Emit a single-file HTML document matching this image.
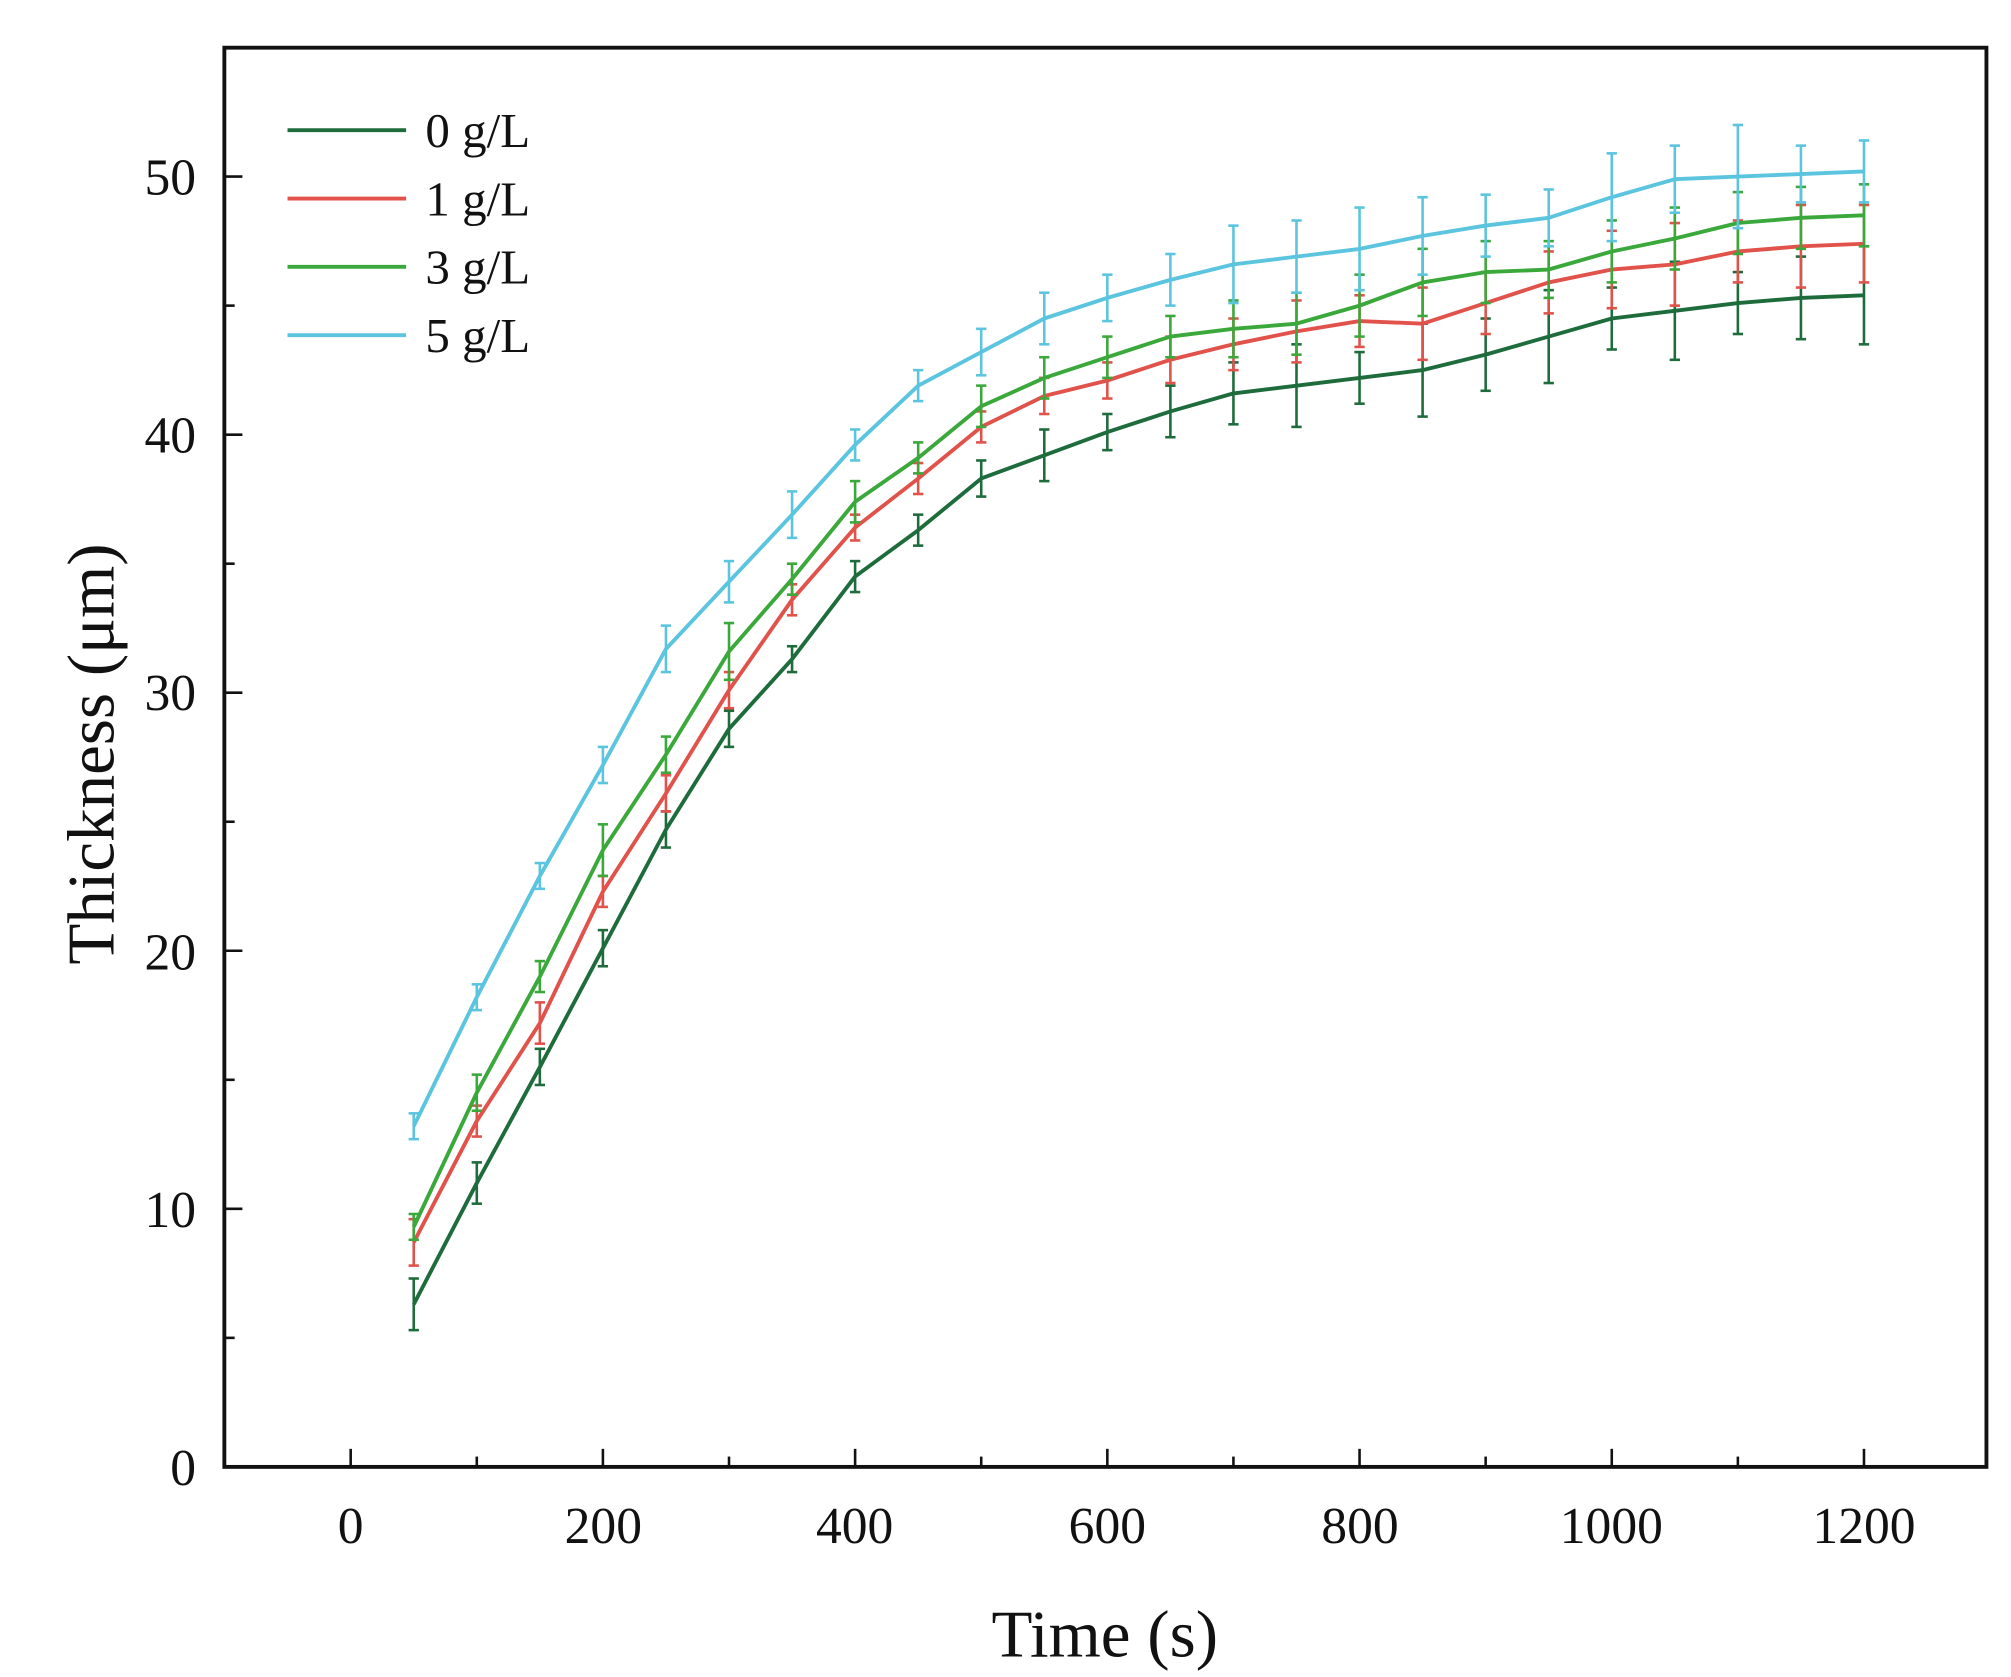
<!DOCTYPE html>
<html><head><meta charset="utf-8"><style>
html,body{margin:0;padding:0;background:#fff;}
svg{display:block;}
text{font-family:"Liberation Serif",serif;fill:#111;}
</style></head><body>
<svg id="s" width="2011" height="1677" viewBox="0 0 1560 1301" xmlns="http://www.w3.org/2000/svg">
<rect x="0" y="0" width="1560" height="1301" fill="#fff"/>
<g id="series"></g>
<rect x="174" y="37" width="1367" height="1101" fill="none" stroke="#111" stroke-width="3"/>
<g id="ticks" stroke="#111" stroke-width="2"></g>
<g font-size="40" text-anchor="end">
<text x="152" y="1152">0</text>
<text x="152" y="952">10</text>
<text x="152" y="752">20</text>
<text x="152" y="551">30</text>
<text x="152" y="351">40</text>
<text x="152" y="151">50</text>
</g>
<g font-size="40" text-anchor="middle">
<text x="272" y="1197">0</text>
<text x="468" y="1197">200</text>
<text x="663" y="1197">400</text>
<text x="859" y="1197">600</text>
<text x="1055" y="1197">800</text>
<text x="1250" y="1197">1000</text>
<text x="1446" y="1197">1200</text>
</g>
<text x="857" y="1285" font-size="52" text-anchor="middle">Time (s)</text>
<text transform="translate(88,585) rotate(-90)" font-size="52" text-anchor="middle">Thickness (μm)</text>
<g stroke-width="3">
<line x1="223" y1="101" x2="315" y2="101" stroke="#1e6b3c"/>
<line x1="223" y1="154" x2="315" y2="154" stroke="#e0524a"/>
<line x1="223" y1="207" x2="315" y2="207" stroke="#3aa83a"/>
<line x1="223" y1="260" x2="315" y2="260" stroke="#5bc4de"/>
</g>
<g font-size="38">
<text x="330" y="114">0 g/L</text>
<text x="330" y="167">1 g/L</text>
<text x="330" y="220">3 g/L</text>
<text x="330" y="273">5 g/L</text>
</g>
</svg>
<script>
var NS="http://www.w3.org/2000/svg";
function X(t){return 272+t*1174/1200;}
function Y(v){return 1138-v*20.02;}
var tk=document.getElementById("ticks");
function ln(g,a,b,c,d,col,w){var l=document.createElementNS(NS,"line");l.setAttribute("x1",a);l.setAttribute("y1",b);l.setAttribute("x2",c);l.setAttribute("y2",d);if(col){l.setAttribute("stroke",col);}if(w)l.setAttribute("stroke-width",w);g.appendChild(l);}
for(var v=0;v<=55;v+=5){var L=(v%10==0)?14:8;ln(tk,174,Y(v),174+L,Y(v));}
for(var t=0;t<=1200;t+=100){var L=(t%200==0)?14:8;ln(tk,X(t),1138,X(t),1138-L);}
var data=[
["#1e6b3c",[6.3,11,15.5,20.1,24.7,28.6,31.3,34.5,36.3,38.3,39.2,40.1,40.9,41.6,41.9,42.2,42.5,43.1,43.8,44.5,44.8,45.1,45.3,45.4],[1,0.8,0.7,0.7,0.7,0.7,0.5,0.6,0.6,0.7,1,0.7,1,1.2,1.6,1,1.8,1.4,1.8,1.2,1.9,1.2,1.6,1.9]],
["#e0524a",[8.7,13.4,17.2,22.3,26.1,30.1,33.6,36.4,38.3,40.3,41.5,42.1,42.9,43.5,44,44.4,44.3,45.1,45.9,46.4,46.6,47.1,47.3,47.4],[0.9,0.6,0.8,0.6,0.7,0.7,0.6,0.5,0.6,0.6,0.7,0.7,0.9,1,1.2,1,1.4,1.2,1.2,1.5,1.6,1.2,1.6,1.5]],
["#3aa83a",[9.3,14.5,19,23.9,27.6,31.6,34.4,37.4,39.1,41.1,42.2,43,43.8,44.1,44.3,45,45.9,46.3,46.4,47.1,47.6,48.2,48.4,48.5],[0.5,0.7,0.6,1,0.7,1.1,0.6,0.8,0.6,0.8,0.8,0.8,0.8,1.1,1.2,1.2,1.3,1.2,1.1,1.2,1.2,1.2,1.2,1.2]],
["#5bc4de",[13.2,18.2,22.9,27.2,31.7,34.3,36.9,39.6,41.9,43.2,44.5,45.3,46,46.6,46.9,47.2,47.7,48.1,48.4,49.2,49.9,50,50.1,50.2],[0.5,0.5,0.5,0.7,0.9,0.8,0.9,0.6,0.6,0.9,1,0.9,1,1.5,1.4,1.6,1.5,1.2,1.1,1.7,1.3,2,1.1,1.2]]
];
var g=document.getElementById("series");
data.forEach(function(s){
 var pts=[];
 s[1].forEach(function(v,i){var t=50+50*i;pts.push(X(t).toFixed(1)+","+Y(v).toFixed(1));
  var e=s[2][i];ln(g,X(t),Y(v-e),X(t),Y(v+e),s[0],2);ln(g,X(t)-4,Y(v-e),X(t)+4,Y(v-e),s[0],2);ln(g,X(t)-4,Y(v+e),X(t)+4,Y(v+e),s[0],2);});
 var p=document.createElementNS(NS,"polyline");p.setAttribute("points",pts.join(" "));p.setAttribute("fill","none");p.setAttribute("stroke",s[0]);p.setAttribute("stroke-width","3");p.setAttribute("stroke-linejoin","round");g.appendChild(p);
});
</script>
</body></html>
